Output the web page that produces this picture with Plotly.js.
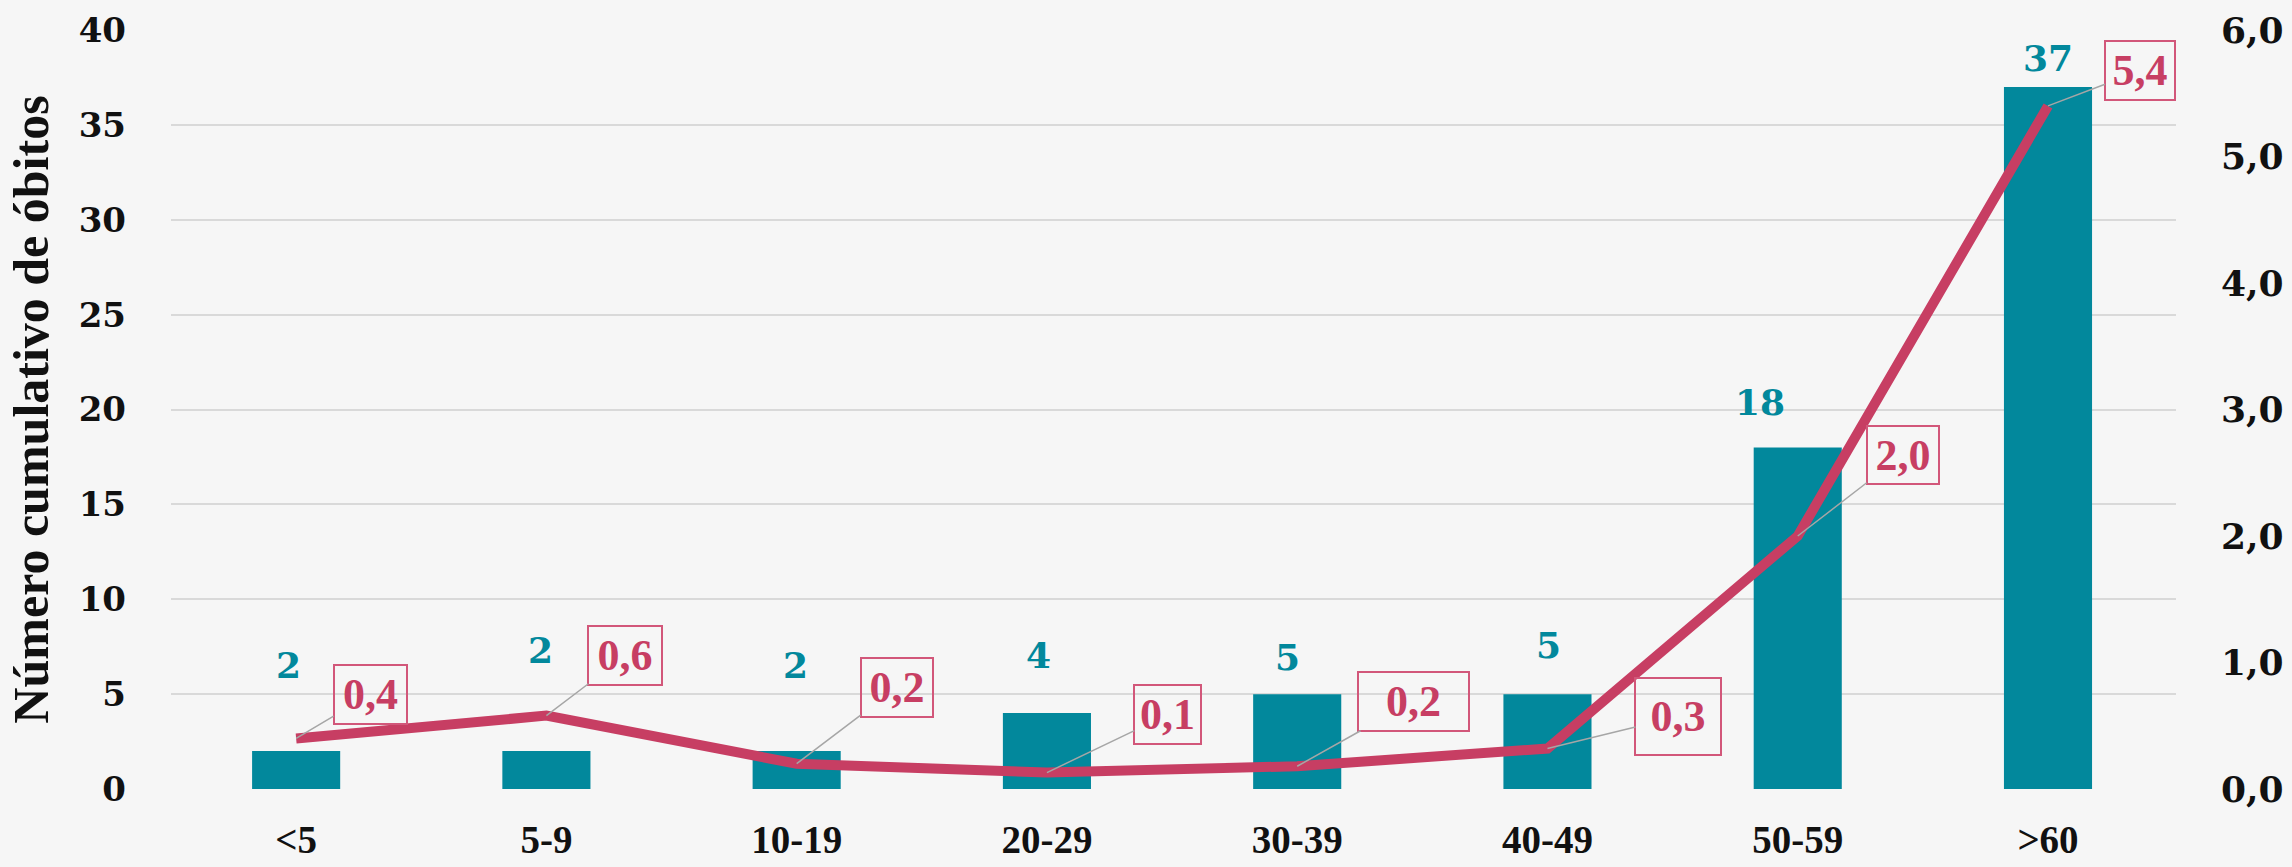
<!DOCTYPE html>
<html>
<head>
<meta charset="utf-8">
<script src="https://cdn.plot.ly/plotly-3.0.1.min.js"></script>
<style>
  html, body { margin: 0; padding: 0; background: #f6f6f6; }
  #chart { width: 2292px; height: 867px; }
</style>
</head>
<body>
<div id="chart"></div>
<script>
// ---- data ----
const categories = ['<5', '5-9', '10-19', '20-29', '30-39', '40-49', '50-59', '>60'];
const deaths = [2, 2, 2, 4, 5, 5, 18, 37];
const rate = [0.4, 0.58, 0.2, 0.13, 0.18, 0.32, 2.0, 5.4];
const leftTicks = [0, 5, 10, 15, 20, 25, 30, 35, 40];
const rightTicks = [0, 1, 2, 3, 4, 5, 6];
const yTitle = 'Número cumulativo de óbitos';

// ---- label placement (pixel offsets, styling only) ----
const barLabelShift = [[-8, -86], [-6, -101], [-1, -86], [-8, -58], [-10, -37], [1, -49], [-38, -45], [0, -29]];
const rateLabelOffset = [[74, -44], [79, -60], [100, -76], [121, -58], [116, -65], [131, -32], [105, -81], [92, -35]];
const rateLabelBox = [[75, 61], [76, 61], [74, 61], [69, 61], [113, 61], [88, 79], [74, 60], [72, 61]];

const TEAL = '#02889c';
const PINK = '#c73e63';
const BOXPINK = '#d2577a';

const fmt = v => v.toFixed(1).replace('.', ',');

const bars = {
  type: 'bar',
  x: categories,
  y: deaths,
  marker: { color: TEAL },
  width: 0.352,
  yaxis: 'y',
  hoverinfo: 'x+y'
};

const line = {
  type: 'scatter',
  mode: 'lines',
  x: categories,
  y: rate,
  yaxis: 'y2',
  line: { color: PINK, width: 10 },
  hoverinfo: 'x+y'
};

const annotations = [];
categories.forEach((c, i) => {
  annotations.push({
    x: c, y: deaths[i], xref: 'x', yref: 'y',
    text: String(deaths[i]),
    showarrow: false,
    xshift: barLabelShift[i][0], yshift: -barLabelShift[i][1],
    xanchor: 'center', yanchor: 'middle',
    font: { family: 'DejaVu Serif', size: 36, color: TEAL, weight: 'bold' }
  });
  annotations.push({
    x: c, y: rate[i], xref: 'x', yref: 'y2',
    text: '<b>' + fmt(rate[i]) + '</b>',
    showarrow: true,
    arrowhead: 0, arrowwidth: 1.5, arrowcolor: '#a6a6a6',
    standoff: 0, startstandoff: 0,
    ax: rateLabelOffset[i][0], ay: rateLabelOffset[i][1],
    width: rateLabelBox[i][0] - 4, height: rateLabelBox[i][1] - 4,
    bordercolor: BOXPINK, borderwidth: 2, borderpad: 0,
    bgcolor: 'rgba(255,255,255,0)',
    align: 'center', valign: 'middle',
    font: { family: 'Liberation Serif', size: 44, color: PINK }
  });
});

const layout = {
  width: 2292, height: 867,
  margin: { l: 171, r: 116, t: 30, b: 78 },
  paper_bgcolor: '#f6f6f6',
  plot_bgcolor: '#f6f6f6',
  separators: ', ',
  showlegend: false,
  bargap: 0.5,
  xaxis: {
    type: 'category',
    categoryorder: 'array', categoryarray: categories,
    showgrid: false, zeroline: false, showline: false,
    ticks: '', ticklabelstandoff: 24,
    tickfont: { family: 'Liberation Serif', size: 39, color: '#111111', weight: 'bold' },
    fixedrange: true
  },
  yaxis: {
    range: [0, 40],
    tickvals: leftTicks,
    ticktext: leftTicks.map(String),
    showgrid: true, gridcolor: '#d9d9d9', gridwidth: 2,
    zeroline: false, showline: false,
    ticks: '', ticklabelstandoff: 44,
    tickfont: { family: 'DejaVu Serif', size: 34, color: '#111111', weight: 'bold' },
    title: {
      text: '<b>' + yTitle + '</b>',
      standoff: 14,
      font: { family: 'Liberation Serif', size: 50, color: '#111111' }
    },
    fixedrange: true
  },
  yaxis2: {
    overlaying: 'y', side: 'right',
    range: [0, 6],
    tickvals: rightTicks,
    tickformat: '.1f',
    showgrid: false, zeroline: false, showline: false,
    ticks: '', ticklabelstandoff: 44,
    tickfont: { family: 'DejaVu Serif', size: 36, color: '#111111', weight: 'bold' },
    fixedrange: true
  },
  annotations: annotations
};

Plotly.newPlot('chart', [bars, line], layout, { displayModeBar: false, staticPlot: true });
</script>
</body>
</html>
